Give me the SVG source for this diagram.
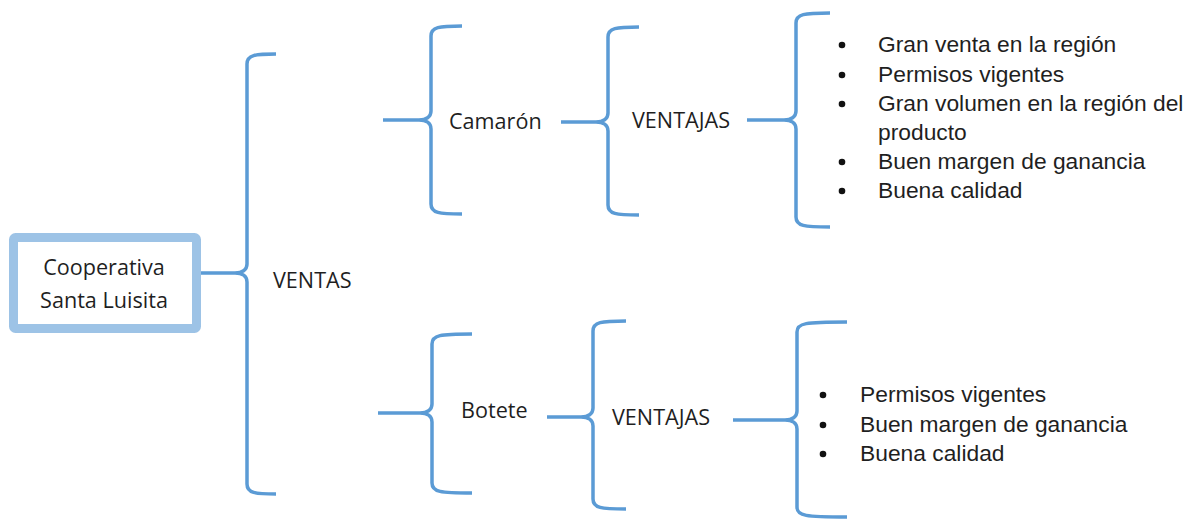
<svg xmlns="http://www.w3.org/2000/svg" width="1190" height="519" viewBox="0 0 1190 519">
<style>
.br{fill:none;stroke:#5b9bd5;stroke-width:3.5;stroke-linecap:butt;stroke-linejoin:round}
.lbl{font-family:"Open Sans","Liberation Sans",sans-serif;font-size:21.6px;fill:#1f1f1f}
.li{font-family:"Liberation Sans",Arial,sans-serif;font-size:22.8px;fill:#1f1f1f}
.dot{fill:#111}
</style>
<rect width="1190" height="519" fill="#fff"/>
<g id="connectors">
<path class="br" d="M276,54 C255,54 247,55 247,64 L247,264 C247,270 242,273 235,273 L197,273 M235,273 C242,273 247,276 247,282 L247,484 C247,493 255,494 276,494"/>
<path class="br" d="M462,26 C439,26 431,27 431,36 L431,111 C431,117 426,120 419,120 L383,120 M419,120 C426,120 431,123 431,129 L431,204 C431,213 439,214 462,214"/>
<path class="br" d="M639,27 C616,27 608,28 608,37 L608,113 C608,119 603,122 596,122 L561,122 M596,122 C603,122 608,125 608,131 L608,205 C608,214 616,215 639,215"/>
<path class="br" d="M830,13 C804,13 796,14 796,23 L796,111 C796,117 791,120 784,120 L747,120 M784,120 C791,120 796,123 796,129 L796,217 C796,226 804,227 830,227"/>
<path class="br" d="M472,334 C440,334 432,335 432,344 L432,404 C432,410 427,413 420,413 L378,413 M420,413 C427,413 432,416 432,422 L432,483 C432,492 440,493 472,493"/>
<path class="br" d="M626,321 C601,321 593,322 593,331 L593,408 C593,414 588,417 581,417 L547,417 M581,417 C588,417 593,420 593,426 L593,499 C593,508 601,509 626,509"/>
<path class="br" d="M847,322 C805,322 797,323 797,332 L797,411 C797,417 792,420 785,420 L733,420 M785,420 C792,420 797,423 797,429 L797,507 C797,516 805,517 847,517"/>
</g>
<g id="node-cooperativa">
<rect x="13.5" y="237.5" width="183" height="91" rx="2" fill="#fff" stroke="#9dc3e6" stroke-width="9"/>
<text class="lbl" x="104" y="275" text-anchor="middle">Cooperativa</text>
<text class="lbl" x="104" y="308" text-anchor="middle">Santa Luisita</text>
</g>
<g id="node-ventas"><text class="lbl" x="273" y="288">VENTAS</text></g>
<g id="node-camaron"><text class="lbl" x="449" y="129">Camarón</text></g>
<g id="node-ventajas-camaron"><text class="lbl" x="632" y="128">VENTAJAS</text></g>
<g id="node-botete"><text class="lbl" x="461" y="418">Botete</text></g>
<g id="node-ventajas-botete"><text class="lbl" x="612" y="425">VENTAJAS</text></g>
<g id="node-lista-camaron">
<circle class="dot" cx="842" cy="45" r="3.3"/>
<circle class="dot" cx="842" cy="75" r="3.3"/>
<circle class="dot" cx="842" cy="104" r="3.3"/>
<circle class="dot" cx="842" cy="162" r="3.3"/>
<circle class="dot" cx="842" cy="191" r="3.3"/>
<text class="li" x="878" y="52">Gran venta en la región</text>
<text class="li" x="878" y="82">Permisos vigentes</text>
<text class="li" x="878" y="111">Gran volumen en la región del</text>
<text class="li" x="878" y="140">producto</text>
<text class="li" x="878" y="169">Buen margen de ganancia</text>
<text class="li" x="878" y="198">Buena calidad</text>
</g>
<g id="node-lista-botete">
<circle class="dot" cx="823" cy="395" r="3.3"/>
<circle class="dot" cx="823" cy="425" r="3.3"/>
<circle class="dot" cx="823" cy="454" r="3.3"/>
<text class="li" x="860" y="402">Permisos vigentes</text>
<text class="li" x="860" y="432">Buen margen de ganancia</text>
<text class="li" x="860" y="461">Buena calidad</text>
</g>
</svg>
